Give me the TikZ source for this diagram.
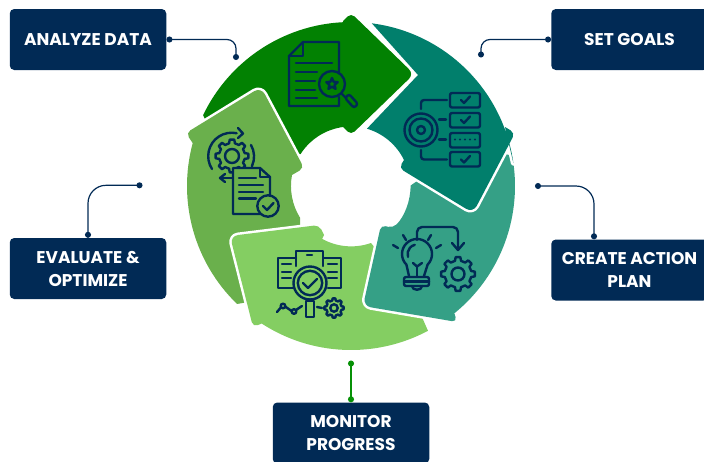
\documentclass[tikz,border=0pt]{standalone}
\usepackage{fontspec}
\setmainfont{Poppins}
\usetikzlibrary{calc,arrows.meta}
\definecolor{navyblue}{HTML}{012A55}
\definecolor{forestseg}{HTML}{028102}
\definecolor{tealseg}{HTML}{017F6C}
\definecolor{seaseg}{HTML}{35A086}
\definecolor{limeseg}{HTML}{84CE62}
\definecolor{mossseg}{HTML}{6AB04C}
\definecolor{leafline}{HTML}{069106}
\def\gearshape[#1](#2)(#3:#4:#5){\draw[#1,shift={(#2)}] (-13:#4) \foreach \a in {0,45,...,315}{ -- ({\a-13}:#4) -- ({\a-8}:#3) -- ({\a+8}:#3) -- ({\a+13}:#4)} -- cycle (0,0) circle (#5);}
\tikzset{
	segment/.style={preaction={draw=white,line width=5pt,line join=round},fill=#1},
	label/.style={fill=navyblue,rounded corners=4.5pt,minimum width=156.5pt,minimum height=61pt,inner sep=0pt,text=white,align=center,font=\fontsize{17}{23}\selectfont\bfseries},
	link/.style={draw=navyblue,line width=1.2pt,{Circle[length=6pt]}-{Circle[length=6pt]}},
	glyph/.style={draw=navyblue,line width=2.4pt,line join=round,line cap=round}
}

\begin{document}
\begin{tikzpicture}[x=1pt,y=-1pt]
			\clip (0,0) rectangle (704,461);
			\coordinate (ring) at (351,186);
			
			%%%%% RING %%%%%
			\path[segment=forestseg] ($(ring)+(205.6:164)$) arc (205.6:267.2:164) -- (343,21) [rounded corners=5pt] -- (351,13) [rounded corners=7pt] -- (414,74) [rounded corners=5pt] -- (351,135) [sharp corners] -- (343,127) arc (262.3:212.5:60) -- (280,150) -- (210,130) -- cycle;
			\path[segment=mossseg] ($(ring)+(134:164)$) arc (134:195.1:164) -- (192,142) [rounded corners=5pt] -- (186,133) [rounded corners=8pt] -- (261,87) [rounded corners=5pt] -- (304,168) [sharp corners] -- (292,175) arc (190.6:148:60) -- (300,240) -- (260,300) -- cycle;
			\path[segment=limeseg] ($(ring)+(123:164)$) arc (123:62:164) -- (410,290) -- (371,243) arc (70.7:118.9:60) -- (324,235) [rounded corners=5pt] -- (319,225) [rounded corners=8pt] -- (230,236) [rounded corners=5pt] -- (253,327) [sharp corners] -- cycle;
			\path[segment=seaseg] ($(ring)+(-10.6:164)$) arc (-10.6:50.7:164) -- (454,312) [rounded corners=5pt] -- (457,322) [rounded corners=8pt] -- (363,306) [rounded corners=5pt] -- (381,225) -- (393,228) [sharp corners] arc (45:0:60) -- (440,165) -- (490,150) -- cycle;
			\path[segment=tealseg] ($(ring)+(277.3:164)$) arc (277.3:352:164) -- (505,127) [rounded corners=5pt] -- (515,133) [rounded corners=8pt] -- (473,213) [rounded corners=5pt] -- (399,168) [sharp corners] -- (404,160) arc (-26:-73.7:60) -- (418,75) -- cycle;
			
			%%%%% LABELS %%%%%
			\node[label] (analyze) at (88,39.5) {ANALYZE DATA};
			\node[label] (goals) at (629.5,39.5) {SET GOALS};
			\node[label] (create) at (629.5,270) {CREATE ACTION\\PLAN};
			\node[label] (evaluate) at (88,268.5) {EVALUATE \&\\OPTIMIZE};
			\node[label] (monitor) at (351,433) {MONITOR\\PROGRESS};
			
			\coordinate (analyzeend) at (236,60);
			\coordinate (goalsend) at (481,57.5);
			\coordinate (createend) at (535,186);
			\coordinate (createin) at (594,0 |- create.north);
			\coordinate (evaluateend) at (142.5,185.3);
			\coordinate (monitorend) at (351,360.5);
			\draw[link,rounded corners=9pt] (analyze.east) -| (analyzeend);
			\draw[link,rounded corners=9pt] (goals.west) -| (goalsend);
			\draw[link,rounded corners=18pt] (createend) -| (createin);
			\draw[link,rounded corners=18pt] (evaluate.north) |- (evaluateend);
			\draw[link,draw=leafline,line width=1.5pt] (monitor.north) -- (monitorend);
			
			%%%%% DOCUMENT ICON %%%%%
			\draw[glyph] (339,75) -- (339,42) -- (303,42) -- (289,56) -- (289,106) -- (339,106) -- (339,97);
			\draw[glyph] (303,42) -- (303,56) -- (289,56);
			\draw[glyph] (296,63) -- (332,63);
			\draw[glyph] (296,72) -- (317,72);
			\draw[glyph] (296,81) -- (315,81);
			\draw[glyph] (296,90) -- (315,90);
			\draw[glyph] (296,98) -- (317,98);
			\draw[glyph,fill=forestseg] (332,84) circle (13);
			\draw[glyph] ($(332,84)+(-90:6)$) -- ($(332,84)+(-54:2.7)$) -- ($(332,84)+(-18:6)$) -- ($(332,84)+(18:2.7)$) -- ($(332,84)+(54:6)$) -- ($(332,84)+(90:2.7)$) -- ($(332,84)+(126:6)$) -- ($(332,84)+(162:2.7)$) -- ($(332,84)+(198:6)$) -- ($(332,84)+(234:2.7)$) -- cycle;
			\draw[glyph] (342,94) -- (346,98);
			\draw[glyph,rounded corners=2.5pt] (349,94) -- (358,104) -- (354,108) -- (345,98) -- cycle;
			
			%%%%% TARGET ICON %%%%%
			\draw[glyph] (421,130) circle (16.5);
			\draw[glyph] (421,130) circle (11.5);
			\draw[glyph] (421,130) circle (4);
			\foreach \y in {93,113,133,152}
				\draw[glyph,rounded corners=2pt] (450,\y) rectangle (480,\y+14.5);
			\draw[glyph,rounded corners=3pt] (421,109) -- (421,100) -- (447,100);
			\draw[glyph] (439,119.5) -- (446,119.5);
			\draw[glyph] (439,139.5) -- (446,139.5);
			\draw[glyph,rounded corners=3pt] (421,150) -- (421,159.5) -- (447,159.5);
			\foreach \y in {100,120,159.5}
				\draw[glyph] (461,\y) -- (464,\y+3) -- (470,\y-3.5);
			\foreach \x in {455,460,465,470,475}
				\fill[navyblue] (\x,139.5) circle (1.1);
			
			%%%%% BULB ICON %%%%%
			\draw[glyph] (409,276) -- (406.4,264.6) arc (135:405:15) -- (424,276);
			\draw[glyph] (408,257) arc (162:256:9.5);
			\draw[glyph] (413,263) -- (417,266.5) -- (422,263);
			\draw[glyph] (417,266.5) -- (417,276);
			\draw[glyph,rounded corners=2pt] (404,277) rectangle (429,286);
			\draw[glyph] (404,281.5) -- (429,281.5);
			\draw[glyph] (412,286) .. controls (412,291) and (422,291) .. (422,286);
			\draw[glyph] (393,245) -- (398,248);
			\draw[glyph] (403,235) -- (406,240);
			\draw[glyph] (431,235) -- (428,240);
			\draw[glyph] (441,245) -- (436,248);
			\draw[glyph,rounded corners=5pt] (417,240) -- (417,227) -- (458,227) -- (458,250);
			\draw[glyph] (452,243) -- (458,250) -- (464,243);
			\gearshape[glyph](458,274)(17:13.5:6.5)
			
			%%%%% GEAR DOCUMENT ICON %%%%%
			\gearshape[glyph](232,156)(16.5:13:7)
			\draw[glyph] (212,169) arc (147:282:23.5);
			\draw[glyph] (238,128) -- (243,133.5) -- (238,138);
			\draw[glyph] (251,145) arc (-30:25:23);
			\draw[glyph] (233,178) -- (220,178);
			\draw[glyph] (225,174) -- (220,178) -- (225,182);
			\draw[glyph,fill=mossseg] (233,168) -- (260,168) -- (270,177) -- (270,214) -- (233,214) -- cycle;
			\draw[glyph] (260,168) -- (260,177) -- (270,177);
			\draw[glyph] (239,178) -- (256,178);
			\draw[glyph] (239,185) -- (263,185);
			\draw[glyph] (239,192) -- (263,192);
			\draw[glyph] (239,198.5) -- (256,198.5);
			\draw[glyph,fill=mossseg] (268,206) circle (10.7);
			\draw[glyph] (263,206) -- (267,210) -- (273.5,203);
			
			%%%%% MONITOR ICON %%%%%
			\draw[glyph] (296,258) -- (278,258) -- (278,288) -- (293,288);
			\draw[glyph] (324,258) -- (341,258) -- (341,288) -- (328,288);
			\draw[glyph] (296,266) -- (296,251) -- (323,251) -- (323,266);
			\draw[glyph] (307,255) -- (312,255);
			\foreach \y in {264,272,278}{
				\draw[glyph] (282,\y) -- (291,\y);
				\draw[glyph] (328,\y) -- (337,\y);
			}
			\draw[glyph,fill=limeseg] (310,283) circle (16.5);
			\draw[glyph] (310,283) circle (12.2);
			\draw[glyph] (303,283) -- (308,288) -- (317,279);
			\draw[glyph] (306,301) rectangle (314,317);
			\draw[glyph] (277,312) -- (283,305) -- (293,312) -- (302,306);
			\draw[glyph,fill=limeseg] (283,306) circle (2.3);
			\draw[glyph,fill=limeseg] (294,311.5) circle (2.3);
			\draw[glyph] (317,307) -- (322,308);
			\gearshape[glyph](334,308)(9.7:7.7:3.7)
		\end{tikzpicture}
\end{document}
